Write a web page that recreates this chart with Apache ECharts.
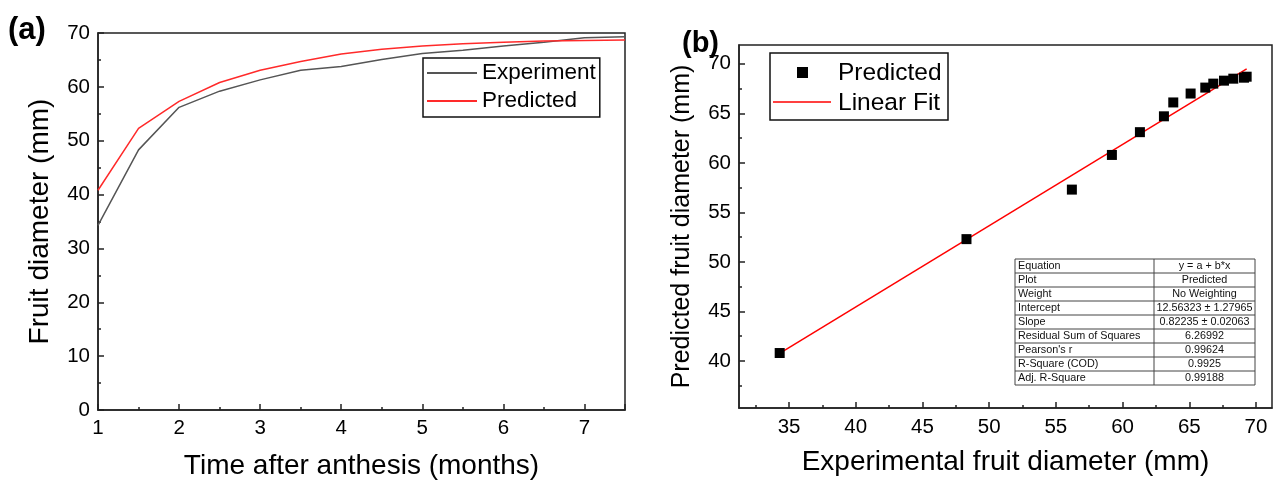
<!DOCTYPE html>
<html>
<head>
<meta charset="utf-8">
<script src="https://cdn.jsdelivr.net/npm/echarts@6/dist/echarts.min.js"></script>
<style>
html,body{margin:0;padding:0;background:#fff;}
#c{width:1285px;height:485px;}
</style>
</head>
<body>
<div id="c"></div>
<script>
// ---- data ----
const months = [1, 1.5, 2, 2.5, 3, 3.5, 4, 4.5, 5, 5.5, 6, 6.5, 7, 7.5];
const experiment = [34.3, 48.3, 56.2, 59.2, 61.3, 63.1, 63.8, 65.1, 66.2, 66.8, 67.6, 68.3, 69.1, 69.3];
const predicted = [40.8, 52.3, 57.3, 60.8, 63.1, 64.7, 66.1, 67.0, 67.6, 68.0, 68.3, 68.5, 68.6, 68.7];
const fitX = [34.2, 69.3];
const fitY = [40.7, 69.5];
const xMajorB = [35, 40, 45, 50, 55, 60, 65, 70];
const xMinorB = [32.5, 37.5, 42.5, 47.5, 52.5, 57.5, 62.5, 67.5];
const yMajorB = [40, 45, 50, 55, 60, 65, 70];
const yMinorB = [37.5, 42.5, 47.5, 52.5, 57.5, 62.5, 67.5];
const tableLabels = ['Equation', 'Plot', 'Weight', 'Intercept', 'Slope', 'Residual Sum of Squares', "Pearson's r", 'R-Square (COD)', 'Adj. R-Square'];
const tableValues = ['y = a + b*x', 'Predicted', 'No Weighting', '12.56323 \u00b1 1.27965', '0.82235 \u00b1 0.02063', '6.26992', '0.99624', '0.9925', '0.99188'];

const FONT = '"Liberation Sans", Arial, sans-serif';
const AX = '#222';

const chart = echarts.init(document.getElementById('c'), null, {renderer: 'canvas'});

function baseAxis(extra) {
  return Object.assign({
    type: 'value',
    axisLine: {show: true, onZero: false, lineStyle: {color: AX, width: 1.5}},
    axisTick: {show: true, inside: true, length: 6, lineStyle: {color: AX, width: 1.5}},
    axisLabel: {color: '#000', fontSize: 20.5, fontFamily: FONT, margin: 8},
    splitLine: {show: false},
    nameTextStyle: {color: '#000', fontSize: 28, fontFamily: FONT}
  }, extra);
}

// table graphic
const tX = 1015, tY = 259, rowH = 14, c1 = 139, c2 = 101;
const tableEls = [];
tableEls.push({type: 'rect', shape: {x: tX, y: tY, width: c1 + c2, height: rowH * tableLabels.length}, style: {fill: '#fff', stroke: '#444', lineWidth: 1}});
tableLabels.forEach((lab, i) => {
  if (i > 0) tableEls.push({type: 'line', shape: {x1: tX, y1: tY + i * rowH, x2: tX + c1 + c2, y2: tY + i * rowH}, style: {stroke: '#444', lineWidth: 1}});
  tableEls.push({type: 'text', x: tX + 3, y: tY + i * rowH + rowH / 2 + 0.5, style: {text: lab, fontSize: 10.8, fontFamily: FONT, fill: '#111', verticalAlign: 'middle', align: 'left'}});
  tableEls.push({type: 'text', x: tX + c1 + c2 / 2, y: tY + i * rowH + rowH / 2 + 0.5, style: {text: tableValues[i], fontSize: 10.8, fontFamily: FONT, fill: '#111', verticalAlign: 'middle', align: 'center'}});
});
tableEls.push({type: 'line', shape: {x1: tX + c1, y1: tY, x2: tX + c1, y2: tY + rowH * tableLabels.length}, style: {stroke: '#444', lineWidth: 1}});

const option = {
  backgroundColor: '#fff',
  animation: false,
  textStyle: {fontFamily: FONT},
  grid: [
    {left: 98, top: 33, width: 527, height: 377, show: true, borderColor: AX, borderWidth: 1.5, backgroundColor: 'transparent'},
    {left: 739, top: 45, width: 533, height: 363, show: true, borderColor: AX, borderWidth: 1.5, backgroundColor: 'transparent'}
  ],
  xAxis: [
    baseAxis({gridIndex: 0, min: 1, max: 7.5, interval: 1, position: 'bottom',
      minorTick: {show: true, splitNumber: 2, length: 3, lineStyle: {color: AX, width: 1.5}},
      axisLabel: {color: '#000', fontSize: 20.5, fontFamily: FONT, margin: 8, showMaxLabel: false},
      name: 'Time after anthesis (months)', nameLocation: 'middle', nameGap: 42}),
    baseAxis({gridIndex: 1, min: 31.25, max: 71.2, position: 'bottom',
      axisTick: {show: true, inside: true, length: 6, customValues: xMajorB, lineStyle: {color: AX, width: 1.5}},
      axisLabel: {color: '#000', fontSize: 20.5, fontFamily: FONT, margin: 9, customValues: xMajorB},
      name: 'Experimental fruit diameter (mm)', nameLocation: 'middle', nameGap: 40}),
    baseAxis({gridIndex: 1, min: 31.25, max: 71.2, position: 'bottom',
      axisLine: {show: false},
      axisTick: {show: true, inside: true, length: 3, customValues: xMinorB, lineStyle: {color: AX, width: 1.5}},
      axisLabel: {show: false}})
  ],
  yAxis: [
    baseAxis({gridIndex: 0, min: 0, max: 70, interval: 10, position: 'left',
      minorTick: {show: true, splitNumber: 2, length: 3, lineStyle: {color: AX, width: 1.5}},
      name: 'Fruit diameter (mm)', nameLocation: 'middle', nameGap: 44}),
    baseAxis({gridIndex: 1, min: 35.25, max: 71.9, position: 'left',
      axisTick: {show: true, inside: true, length: 6, customValues: yMajorB, lineStyle: {color: AX, width: 1.5}},
      axisLabel: {color: '#000', fontSize: 20.5, fontFamily: FONT, margin: 8, customValues: yMajorB},
      name: 'Predicted fruit diameter (mm)', nameLocation: 'middle', nameGap: 44,
      nameTextStyle: {color: '#000', fontSize: 25, fontFamily: FONT}}),
    baseAxis({gridIndex: 1, min: 35.25, max: 71.9, position: 'left',
      axisLine: {show: false},
      axisTick: {show: true, inside: true, length: 3, customValues: yMinorB, lineStyle: {color: AX, width: 1.5}},
      axisLabel: {show: false}})
  ],
  legend: {
    data: ['Experiment', 'Predicted'],
    orient: 'vertical', left: 423, top: 58,
    itemWidth: 50, itemHeight: 14, itemGap: 4,
    padding: [3, 4, 4, 4],
    borderColor: '#111', borderWidth: 1.5,
    textStyle: {fontSize: 22.5, fontFamily: FONT, color: '#000', lineHeight: 24, padding: [0, 0, 0, 0]},
    icon: 'path://M0,6h50v2h-50z'
  },
  series: [
    {name: 'Experiment', type: 'line', xAxisIndex: 0, yAxisIndex: 0, showSymbol: false, symbol: 'none',
      data: months.map((m, i) => [m, experiment[i]]), lineStyle: {color: '#555', width: 1.5}, itemStyle: {color: '#555'}},
    {name: 'Predicted', type: 'line', xAxisIndex: 0, yAxisIndex: 0, showSymbol: false, symbol: 'none',
      data: months.map((m, i) => [m, predicted[i]]), lineStyle: {color: '#ff2a2a', width: 1.5}, itemStyle: {color: '#ff2a2a'}},
    {name: 'Linear Fit', type: 'line', xAxisIndex: 1, yAxisIndex: 1, showSymbol: false, symbol: 'none', z: 3,
      data: fitX.map((x, i) => [x, fitY[i]]), lineStyle: {color: '#ff0000', width: 1.5}},
    {name: 'Predicted (b)', type: 'scatter', xAxisIndex: 1, yAxisIndex: 1, symbol: 'rect', symbolSize: 10, z: 4,
      data: experiment.map((e, i) => [e, predicted[i]]), itemStyle: {color: '#000', opacity: 1}}
  ],
  graphic: [
    {type: 'text', left: 8, top: 15, style: {text: '(a)', fontSize: 31, fontWeight: 'bold', fontFamily: FONT, fill: '#000'}},
    {type: 'text', left: 682, top: 29, style: {text: '(b)', fontSize: 29, fontWeight: 'bold', fontFamily: FONT, fill: '#000'}},
    {type: 'rect', shape: {x: 770, y: 53, width: 178, height: 67}, style: {fill: '#fff', stroke: '#111', lineWidth: 1.5}, z: 10},
    {type: 'rect', shape: {x: 797, y: 67, width: 11, height: 11}, style: {fill: '#000'}, z: 11},
    {type: 'line', shape: {x1: 773, y1: 102, x2: 831, y2: 102}, style: {stroke: '#ff0000', lineWidth: 1.5}, z: 11},
    {type: 'text', x: 838, y: 73, style: {text: 'Predicted', fontSize: 24.5, fontFamily: FONT, fill: '#000', verticalAlign: 'middle'}, z: 11},
    {type: 'text', x: 838, y: 103, style: {text: 'Linear Fit', fontSize: 24.5, fontFamily: FONT, fill: '#000', verticalAlign: 'middle'}, z: 11},
    {type: 'group', z: 10, children: tableEls}
  ]
};
chart.setOption(option);
</script>
</body>
</html>
